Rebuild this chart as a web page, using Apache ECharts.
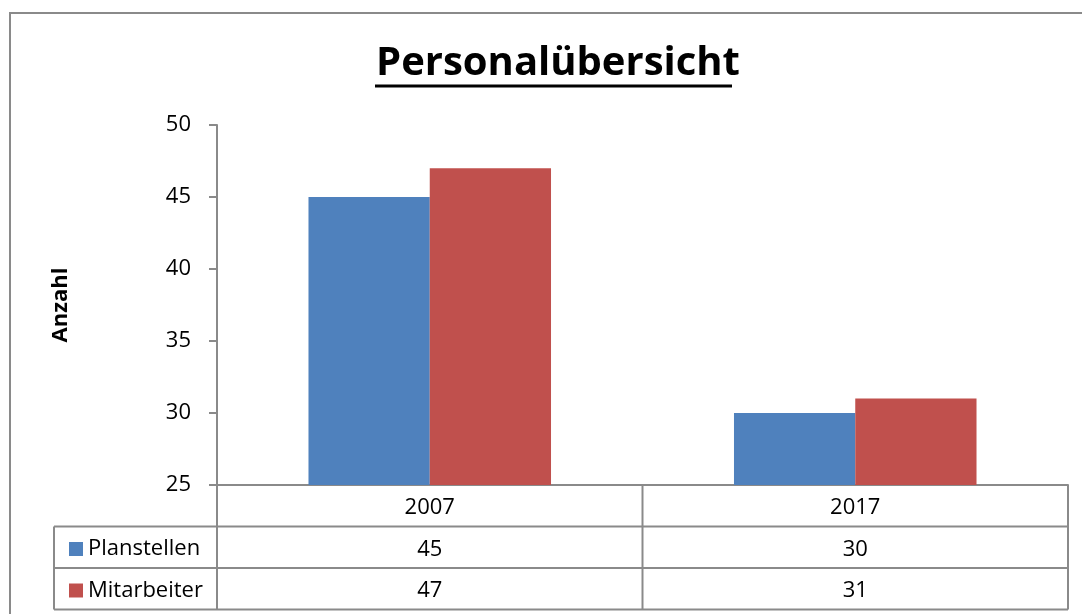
<html>
<head>
<meta charset="utf-8">
<script src="https://cdn.jsdelivr.net/npm/echarts@6/dist/echarts.min.js"></script>
<style>
html, body { margin: 0; padding: 0; background: #fff; }
#main { width: 1082px; height: 614px; }
</style>
</head>
<body>
<div id="main"></div>
<script>
var years = ['2007', '2017'];
var seriesNames = ['Planstellen', 'Mitarbeiter'];
var planstellen = [45, 30];
var mitarbeiter = [47, 31];
var yMin = 25, yMax = 50, yStep = 5;

var chart = echarts.init(document.getElementById('main'));
var font = 'Open Sans';
var gray = '#8a8a8a';

// data table under the x axis
var axisY = 485, rowH = 41.5, tableL = 54, gridL = 217, gridR = 1068;
var row1 = axisY + rowH, row2 = row1 + rowH, row3 = row2 + rowH;

function line(x1, y1, x2, y2) {
    return { type: 'line', shape: { x1: x1, y1: y1, x2: x2, y2: y2 }, style: { stroke: gray, lineWidth: 2 }, silent: true };
}

var tableLines = [
    line(tableL, row1, gridR, row1),
    line(tableL, row2, gridR, row2),
    line(tableL, row3, gridR, row3),
    line(tableL, row1, tableL, row3)
];
// column borders at the category boundaries
for (var i = 0; i <= years.length; i++) {
    var x = gridL + (gridR - gridL) * i / years.length;
    tableLines.push(line(x, axisY, x, row3));
}

chart.setOption({
    animation: false,
    title: {
        text: 'Personalübersicht',
        left: 553,
        textAlign: 'center',
        top: 39,
        textStyle: { fontFamily: font, fontWeight: 'bold', fontSize: 40, color: '#000' }
    },
    legend: {
        orient: 'vertical',
        left: 64,
        top: 533,
        icon: 'rect',
        itemWidth: 14,
        itemHeight: 14,
        itemGap: 19.5,
        data: seriesNames,
        textStyle: { fontFamily: font, fontSize: 22, lineHeight: 22, color: '#000' }
    },
    grid: { left: gridL, right: 1082 - gridR, top: 125, bottom: 614 - axisY },
    xAxis: {
        type: 'category',
        data: years,
        axisLine: { lineStyle: { color: gray, width: 2 } },
        axisTick: { show: false },
        axisLabel: {
            margin: 2,
            fontFamily: font,
            fontSize: 22,
            lineHeight: rowH,
            color: '#000',
            formatter: function (v, i) {
                return v + '\n' + planstellen[i] + '\n' + mitarbeiter[i];
            }
        }
    },
    yAxis: {
        type: 'value',
        min: yMin,
        max: yMax,
        interval: yStep,
        name: 'Anzahl',
        nameLocation: 'middle',
        nameRotate: 90,
        nameGap: 145,
        nameTextStyle: { fontFamily: font, fontWeight: 'bold', fontSize: 22, color: '#000' },
        splitLine: { show: false },
        axisLine: { show: true, lineStyle: { color: gray, width: 2 } },
        axisTick: { show: true, length: 8, lineStyle: { color: gray, width: 2 } },
        axisLabel: { margin: 26, fontFamily: font, fontSize: 22, color: '#000' }
    },
    series: [
        { name: seriesNames[0], type: 'bar', data: planstellen, barGap: 0, barCategoryGap: '43%', itemStyle: { color: '#4F81BD' } },
        { name: seriesNames[1], type: 'bar', data: mitarbeiter, itemStyle: { color: '#C0504D' } }
    ],
    graphic: [
        { type: 'polyline', shape: { points: [[10, 614], [10, 13], [1082, 13]] }, style: { stroke: gray, fill: null, lineWidth: 2 }, silent: true },
        { type: 'line', shape: { x1: 375, y1: 86, x2: 732, y2: 86 }, style: { stroke: '#000', lineWidth: 3 }, silent: true }
    ].concat(tableLines)
});

window.onresize = chart.resize;
</script>
</body>
</html>
